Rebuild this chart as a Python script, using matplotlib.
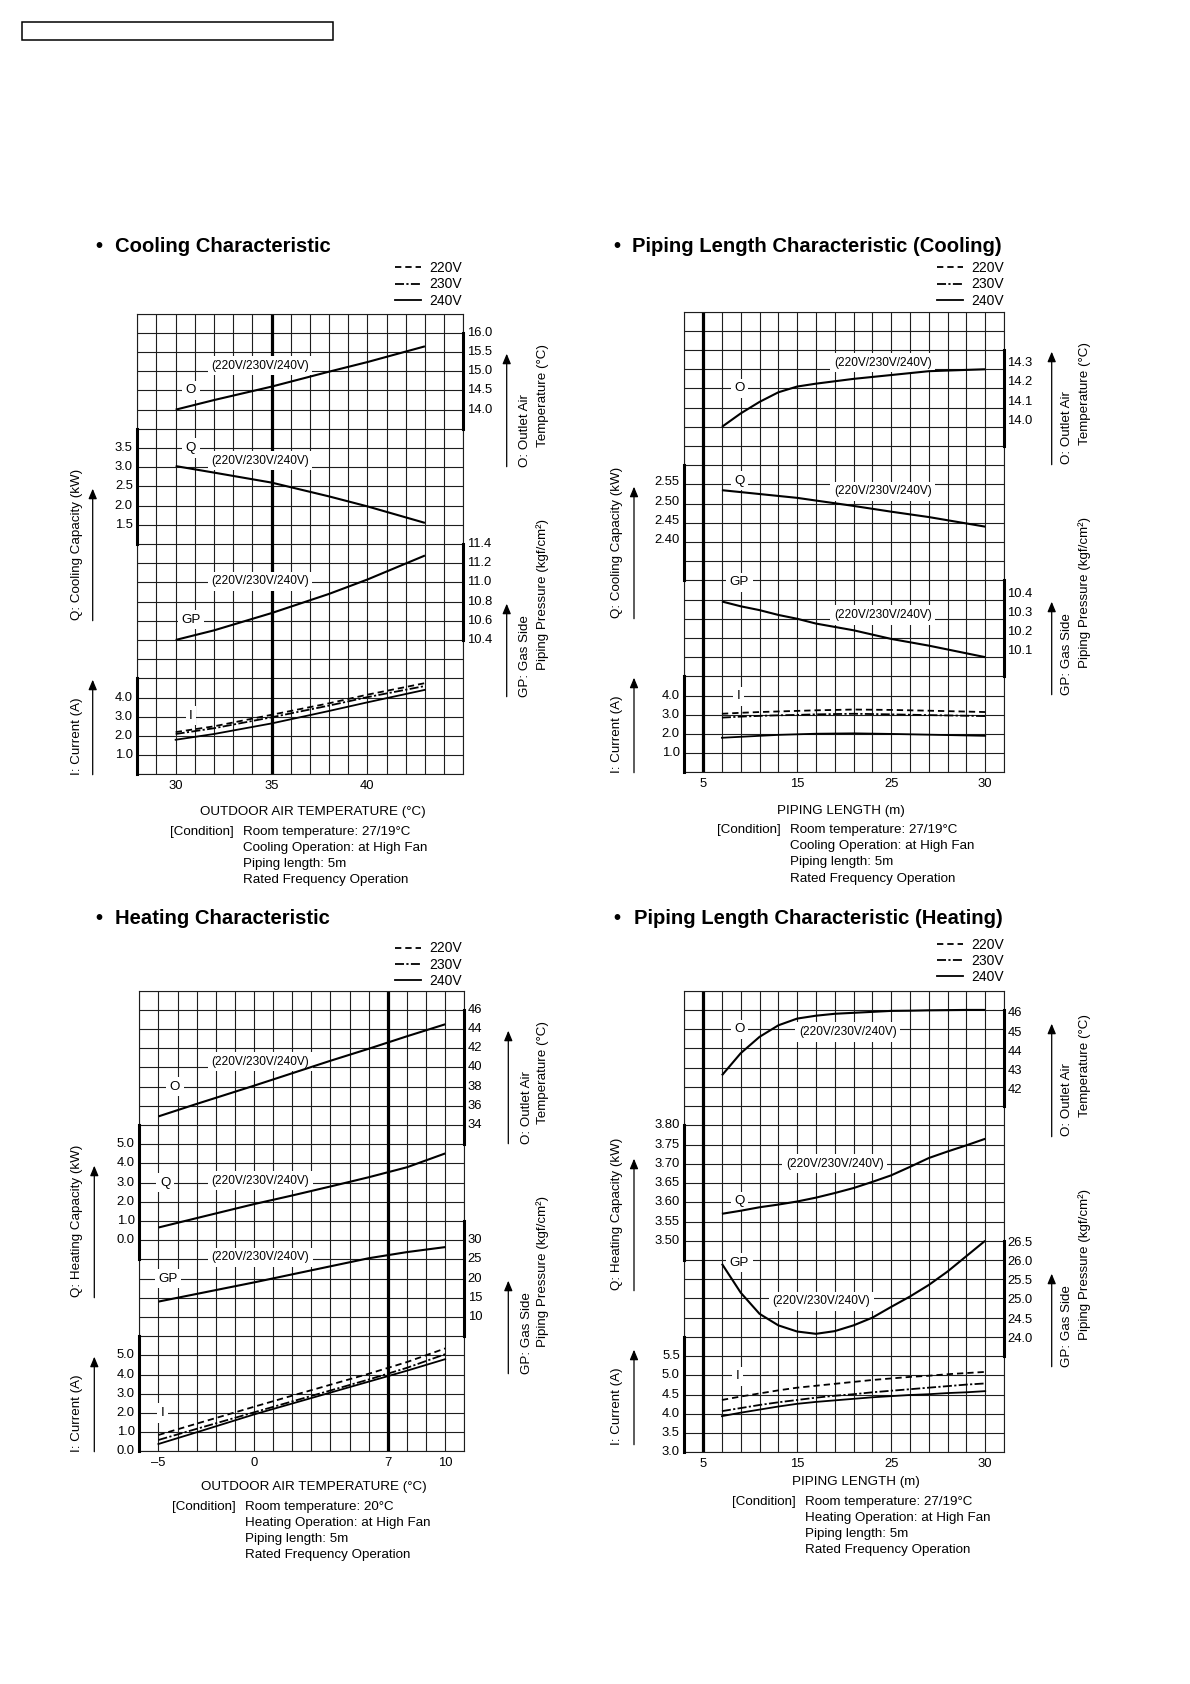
import numpy as np
import matplotlib
matplotlib.use("Agg")
import matplotlib.pyplot as plt
from matplotlib import transforms
from matplotlib.patches import FancyArrowPatch, Rectangle

plt.rcParams['font.family'] = ['Liberation Sans', 'DejaVu Sans']

# ---------------- data ----------------
volts = ['220V', '230V', '240V']

# Cooling characteristic (outdoor air temperature, degC)
cool_temp = [30, 32, 35, 38, 40, 43]
cool_O = [14.0, 14.25, 14.6, 14.99, 15.24, 15.65]
cool_Q = [3.03, 2.86, 2.6, 2.24, 1.98, 1.55]
cool_GP = [10.40, 10.50, 10.68, 10.88, 11.03, 11.28]
cool_I_220 = [2.2, 2.5, 3.1, 3.7, 4.15, 4.75]
cool_I_230 = [2.1, 2.4, 2.97, 3.58, 4.02, 4.6]
cool_I_240 = [1.8, 2.1, 2.65, 3.3, 3.75, 4.4]

# Piping length characteristic (cooling), piping length m
pc_len = [7, 9, 11, 13, 15, 17, 21, 25, 27, 30]
pc_O = [14.0, 14.07, 14.13, 14.18, 14.21, 14.225, 14.25, 14.27, 14.29, 14.30]
pc_Q = [2.535, 2.53, 2.525, 2.52, 2.515, 2.508, 2.494, 2.479, 2.465, 2.44]
pc_GP = [10.39, 10.365, 10.345, 10.32, 10.30, 10.275, 10.24, 10.195, 10.16, 10.10]
pc_I_220 = [3.05, 3.1, 3.14, 3.17, 3.2, 3.23, 3.27, 3.25, 3.21, 3.14]
pc_I_230 = [2.85, 2.9, 2.94, 2.97, 2.99, 3.02, 3.05, 3.02, 2.98, 2.93]
pc_I_240 = [1.8, 1.85, 1.9, 1.95, 1.98, 2.01, 2.03, 2.0, 1.96, 1.9]

# Heating characteristic (outdoor air temperature, degC)
heat_temp = [-5, -3, 0, 2, 4, 6, 8, 10]
heat_O = [34.9, 36.2, 38.1, 39.4, 40.7, 41.95, 43.25, 44.5]
heat_Q = [0.66, 1.15, 1.88, 2.33, 2.8, 3.28, 3.8, 4.52]
heat_GP = [14.0, 16.0, 19.0, 21.1, 23.2, 25.3, 26.9, 28.2]
heat_I_220 = [0.85, 1.44, 2.32, 2.9, 3.47, 4.04, 4.65, 5.36]
heat_I_230 = [0.59, 1.17, 2.03, 2.6, 3.17, 3.74, 4.35, 5.06]
heat_I_240 = [0.38, 0.99, 1.92, 2.49, 3.06, 3.63, 4.2, 4.8]

# Piping length characteristic (heating)
ph_len = [7, 9, 11, 13, 15, 17, 19, 21, 23, 25, 26, 27, 28, 29, 30]
ph_O = [42.6, 43.75, 44.6, 45.2, 45.55, 45.7, 45.8, 45.85, 45.9, 45.95, 45.96, 45.98, 45.99, 46.0, 46.0]
ph_Q = [3.57, 3.578, 3.587, 3.594, 3.602, 3.612, 3.624, 3.637, 3.653, 3.67, 3.692, 3.715, 3.732, 3.748, 3.765]
ph_GP = [25.9, 25.15, 24.6, 24.3, 24.14, 24.08, 24.15, 24.3, 24.5, 24.78, 25.05, 25.35, 25.7, 26.1, 26.5]
ph_I_220 = [4.36, 4.45, 4.53, 4.61, 4.68, 4.73, 4.78, 4.83, 4.88, 4.92, 4.96, 4.99, 5.03, 5.06, 5.09]
ph_I_230 = [4.07, 4.15, 4.23, 4.30, 4.36, 4.42, 4.47, 4.51, 4.56, 4.60, 4.64, 4.68, 4.72, 4.76, 4.79]
ph_I_240 = [3.94, 4.03, 4.11, 4.19, 4.26, 4.31, 4.35, 4.39, 4.43, 4.46, 4.49, 4.51, 4.54, 4.56, 4.59]

# tick labels
cool_x_ticks = [30, 35, 40]
pipe_x_ticks = [5, 15, 25, 30]
heat_x_ticks = [-5, 0, 7, 10]
heat_x_labels = ['\u20135', '0', '7', '10']
cool_O_ticks = [14.0, 14.5, 15.0, 15.5, 16.0]
cool_Q_ticks = [1.5, 2.0, 2.5, 3.0, 3.5]
cool_GP_ticks = [10.4, 10.6, 10.8, 11.0, 11.2, 11.4]
cool_I_ticks = [1.0, 2.0, 3.0, 4.0]
pc_O_ticks = [14.0, 14.1, 14.2, 14.3]
pc_Q_ticks = [2.40, 2.45, 2.50, 2.55]
pc_GP_ticks = [10.1, 10.2, 10.3, 10.4]
heat_O_ticks = [34, 36, 38, 40, 42, 44, 46]
heat_Q_ticks = [0.0, 1.0, 2.0, 3.0, 4.0, 5.0]
heat_GP_ticks = [10, 15, 20, 25, 30]
heat_I_ticks = [0.0, 1.0, 2.0, 3.0, 4.0, 5.0]
ph_O_ticks = [42, 43, 44, 45, 46]
ph_Q_ticks = [3.50, 3.55, 3.60, 3.65, 3.70, 3.75, 3.80]
ph_GP_ticks = [24.0, 24.5, 25.0, 25.5, 26.0, 26.5]
ph_I_ticks = [3.0, 3.5, 4.0, 4.5, 5.0, 5.5]

cond_cool = ['Room temperature: 27/19\u00b0C', 'Cooling Operation: at High Fan',
             'Piping length: 5m', 'Rated Frequency Operation']
cond_heat = ['Room temperature: 20\u00b0C', 'Heating Operation: at High Fan',
             'Piping length: 5m', 'Rated Frequency Operation']
cond_pheat = ['Room temperature: 27/19\u00b0C', 'Heating Operation: at High Fan',
              'Piping length: 5m', 'Rated Frequency Operation']

# piping length axis of the original drawing: 2 m per cell up to 25 m, 1 m per cell after
PIPE_M = [3, 25, 31]
PIPE_CELL = [0, 11, 17]
pipe_grid = list(range(3, 26, 2)) + list(range(26, 32))

# ---------------- figure ----------------
W, H = 1190, 1684
fig = plt.figure(figsize=(W / 100, H / 100), dpi=100)


def fx(x):
    return x / W


def fy(y):
    return 1 - y / H


LS = {'220V': (0, (3.5, 2.2)), '230V': (0, (5, 1.3, 1.2, 1.3)), '240V': '-'}
CURVE = dict(color='k', lw=1.5, solid_capstyle='butt')
TAG = '(220V/230V/240V)'


def grid_axes(left, top, right, bottom, xlim, xgrid, xticks, xlabels, thick_x, pipe=False):
    ax = fig.add_axes([fx(left), fy(bottom), (right - left) / W, (bottom - top) / H])
    if pipe:
        ax.set_xscale('function', functions=(lambda m: np.interp(m, PIPE_M, PIPE_CELL),
                                             lambda c: np.interp(c, PIPE_CELL, PIPE_M)))
    ax.set_xlim(*xlim)
    ax.set_ylim(0, 24)
    ax.set_xticks(xticks)
    ax.set_xticklabels(xlabels)
    ax.set_xticks(xgrid, minor=True)
    ax.set_yticks(range(25))
    ax.tick_params(which='both', length=0)
    ax.tick_params(axis='x', labelsize=9.4, pad=4)
    ax.tick_params(axis='y', labelleft=False)
    ax.grid(which='both', color='#1e1e1e', lw=0.8)
    for s in ax.spines.values():
        s.set_linewidth(0.8)
        s.set_color('#1e1e1e')
    ax.axvline(thick_x, color='k', lw=2.3)
    return ax


def sub_axis(base, r0, v0, step, side, ticks, span, fmt, dy=0):
    ax = base.twinx()
    ax.set_ylim(v0 - step * r0, v0 + step * (24 - r0))
    ax.set_yticks([])
    for name, s in ax.spines.items():
        s.set_visible(name == side)
    ax.spines[side].set_linewidth(2.2)
    ax.spines[side].set_bounds(*span)
    tr = ax.get_yaxis_transform()
    for t in ticks:
        if side == 'right':
            off = transforms.offset_copy(tr, fig=fig, x=3.5, y=dy, units='dots')
            ax.text(1, t, fmt % t, transform=off, ha='left', va='center', fontsize=9.4)
        else:
            off = transforms.offset_copy(tr, fig=fig, x=-4.5, y=dy, units='dots')
            ax.text(0, t, fmt % t, transform=off, ha='right', va='center', fontsize=9.4)
    return ax


def currents(ax, x, series, lx, ly):
    for v, ys in zip(volts, series):
        ax.plot(x, ys, color='k', lw=1.3, ls=LS[v], label=v)
    ax.legend(loc='upper left', bbox_to_anchor=(fx(lx), fy(ly)), bbox_transform=fig.transFigure,
              frameon=False, fontsize=10, handlelength=1.9, handletextpad=0.6,
              labelspacing=0.17, borderpad=0, borderaxespad=0)


def tags(ax, items):
    for s, x, r in items:
        fs = 8.6 if s.startswith('(') else 9.6
        ax.text(x, r, s, ha='center', va='center', fontsize=fs, zorder=5,
                bbox=dict(fc='white', ec='none', pad=2.6))


def side_text(x, y, s):
    fig.text(fx(x), fy(y), s, rotation=90, ha='center', va='center', fontsize=9.6)


def arrow(x, y0, y1):
    fig.add_artist(FancyArrowPatch((fx(x), fy(y0)), (fx(x), fy(y1)), transform=fig.transFigure,
                                   arrowstyle='-|>,head_length=0.6,head_width=0.25',
                                   mutation_scale=10, lw=0.9, color='k', shrinkA=0, shrinkB=0))


def decorate(top, xs, q_text, dy=0):
    lx, lax, rax, rx1, rx2 = xs
    t = top + dy
    side_text(lx, t + 230.3, q_text)
    side_text(lx, t + 422.3, 'I: Current (A)')
    side_text(rx1, t + 116.3, 'O: Outlet Air')
    side_text(rx2, t + 82.1, 'Temperature (\u00b0C)')
    side_text(rx1, t + 342, 'GP: Gas Side')
    side_text(rx2, t + 281, 'Piping Pressure (kgf/cm\u00b2)')
    arrow(lax, t + 307, t + 175)
    arrow(lax, t + 461, t + 366)
    arrow(rax, t + 153, t + 40)
    arrow(rax, t + 383, t + 290)


def heading(bx, tx, y, s):
    fig.text(fx(bx), fy(y), '\u2022', ha='center', va='center', fontsize=14.6, fontweight='bold')
    fig.text(fx(tx), fy(y), s, ha='left', va='center', fontsize=14.6, fontweight='bold')


def footer(xc, xy, xlabel, cx, lx, y0, lines):
    fig.text(fx(xc), fy(xy), xlabel, ha='center', va='center', fontsize=9.6)
    fig.text(fx(cx), fy(y0), '[Condition]', ha='left', va='center', fontsize=9.6)
    for i, s in enumerate(lines):
        fig.text(fx(lx), fy(y0 + 16.1 * i), s, ha='left', va='center', fontsize=9.6)


# header box
fig.add_artist(Rectangle((fx(22), fy(40)), (333 - 22) / W, 18 / H, transform=fig.transFigure,
                         fill=False, lw=1.1, ec='k'))

# ---- Cooling Characteristic ----
ax = grid_axes(137.3, 313.7, 463.3, 774.3, (28, 45), range(28, 46), cool_x_ticks,
               [str(t) for t in cool_x_ticks], 35)
sub_axis(ax, 19, 14.0, 0.5, 'right', cool_O_ticks, (13.5, 16.0), '%.1f').plot(cool_temp, cool_O, **CURVE)
sub_axis(ax, 13, 1.5, 0.5, 'left', cool_Q_ticks, (1.0, 4.0), '%.1f').plot(cool_temp, cool_Q, **CURVE)
sub_axis(ax, 7, 10.4, 0.2, 'right', cool_GP_ticks, (10.4, 11.4), '%.1f').plot(cool_temp, cool_GP, **CURVE)
aI = sub_axis(ax, 0, 0.0, 1.0, 'left', cool_I_ticks, (0, 5), '%.1f')
currents(aI, cool_temp, [cool_I_220, cool_I_230, cool_I_240], 395, 261)
tags(ax, [(TAG, 34.4, 21.3), ('O', 30.8, 20), ('Q', 30.8, 17), (TAG, 34.4, 16.35),
          (TAG, 34.4, 10.05), ('GP', 30.8, 8.05), ('I', 30.8, 3.05)])
decorate(313.7, (76.7, 92.7, 506.7, 525, 542.7), 'Q: Cooling Capacity (kW)')
heading(99, 115, 246.7, 'Cooling Characteristic')
footer(312.5, 812, 'OUTDOOR AIR TEMPERATURE (\u00b0C)', 170, 242.7, 831.7, cond_cool)

# ---- Piping Length Characteristic (Cooling) ----
ax = grid_axes(684.3, 311.7, 1004, 772.3, (3, 31), pipe_grid, pipe_x_ticks,
               [str(t) for t in pipe_x_ticks], 5, pipe=True)
sub_axis(ax, 18, 14.0, 0.1, 'right', pc_O_ticks, (13.9, 14.4), '%.1f', dy=6).plot(pc_len, pc_O, **CURVE)
sub_axis(ax, 12, 2.40, 0.05, 'left', pc_Q_ticks, (2.30, 2.60), '%.2f', dy=2).plot(pc_len, pc_Q, **CURVE)
sub_axis(ax, 6, 10.1, 0.1, 'right', pc_GP_ticks, (10.0, 10.5), '%.1f', dy=6).plot(pc_len, pc_GP, **CURVE)
aI = sub_axis(ax, 0, 0.0, 1.0, 'left', cool_I_ticks, (0, 5), '%.1f')
currents(aI, pc_len, [pc_I_220, pc_I_230, pc_I_240], 936.7, 261)
tags(ax, [(TAG, 24.1, 21.35), ('O', 8.85, 20), ('Q', 8.85, 15.2), (TAG, 24.1, 14.65),
          ('GP', 8.85, 9.9), (TAG, 24.1, 8.2), ('I', 8.8, 3.95)])
decorate(311.7, (616.7, 634, 1051.7, 1066.7, 1085), 'Q: Cooling Capacity (kW)')
heading(616.7, 631.7, 246.7, 'Piping Length Characteristic (Cooling)')
footer(841, 811, 'PIPING LENGTH (m)', 717.3, 790, 830.3, cond_cool)

# ---- Heating Characteristic ----
ax = grid_axes(139.3, 990.7, 464.3, 1451.3, (-6, 11), range(-6, 12), heat_x_ticks, heat_x_labels, 7)
sub_axis(ax, 17, 34, 2, 'right', heat_O_ticks, (32, 46), '%d').plot(heat_temp, heat_O, **CURVE)
sub_axis(ax, 11, 0.0, 1.0, 'left', heat_Q_ticks, (-1, 6), '%.1f').plot(heat_temp, heat_Q, **CURVE)
sub_axis(ax, 7, 10, 5, 'right', heat_GP_ticks, (5, 35), '%d').plot(heat_temp, heat_GP, **CURVE)
aI = sub_axis(ax, 0, 0.0, 1.0, 'left', heat_I_ticks, (0, 6), '%.1f')
currents(aI, heat_temp, [heat_I_220, heat_I_230, heat_I_240], 395, 941.5)
tags(ax, [(TAG, 0.32, 20.3), ('O', -4.13, 19), ('Q', -4.65, 14), (TAG, 0.32, 14.1),
          (TAG, 0.32, 10.1), ('GP', -4.5, 9), ('I', -4.8, 2)])
decorate(990.7, (76.7, 94.3, 508.3, 526.7, 542.7), 'Q: Heating Capacity (kW)')
heading(99, 115, 918.3, 'Heating Characteristic')
footer(313.8, 1487.3, 'OUTDOOR AIR TEMPERATURE (\u00b0C)', 171.7, 245, 1506.7, cond_heat)

# ---- Piping Length Characteristic (Heating) ----
ax = grid_axes(684.3, 990.7, 1004, 1452.3, (3, 31), pipe_grid, pipe_x_ticks,
               [str(t) for t in pipe_x_ticks], 5, pipe=True)
sub_axis(ax, 19, 42, 1, 'right', ph_O_ticks, (41, 46), '%d', dy=-3.5).plot(ph_len, ph_O, **CURVE)
sub_axis(ax, 11, 3.50, 0.05, 'left', ph_Q_ticks, (3.45, 3.80), '%.2f').plot(ph_len, ph_Q, **CURVE)
sub_axis(ax, 6, 24.0, 0.5, 'right', ph_GP_ticks, (23.5, 26.5), '%.1f', dy=-2).plot(ph_len, ph_GP, **CURVE)
aI = sub_axis(ax, 0, 3.0, 0.5, 'left', ph_I_ticks, (3.0, 6.0), '%.1f')
currents(aI, ph_len, [ph_I_220, ph_I_230, ph_I_240], 936.7, 937.5)
tags(ax, [(TAG, 20.4, 21.85), ('O', 8.85, 22), (TAG, 19.0, 15), ('Q', 8.85, 13.05),
          ('GP', 8.85, 9.85), (TAG, 17.6, 7.85), ('I', 8.7, 3.95)])
decorate(990.7, (616.7, 634, 1051.7, 1066.7, 1085), 'Q: Heating Capacity (kW)', dy=-7)
heading(617.3, 634, 918.3, 'Piping Length Characteristic (Heating)')
footer(856.2, 1482.3, 'PIPING LENGTH (m)', 731.7, 805, 1501.7, cond_pheat)

fig.savefig('out.png', dpi=100)
